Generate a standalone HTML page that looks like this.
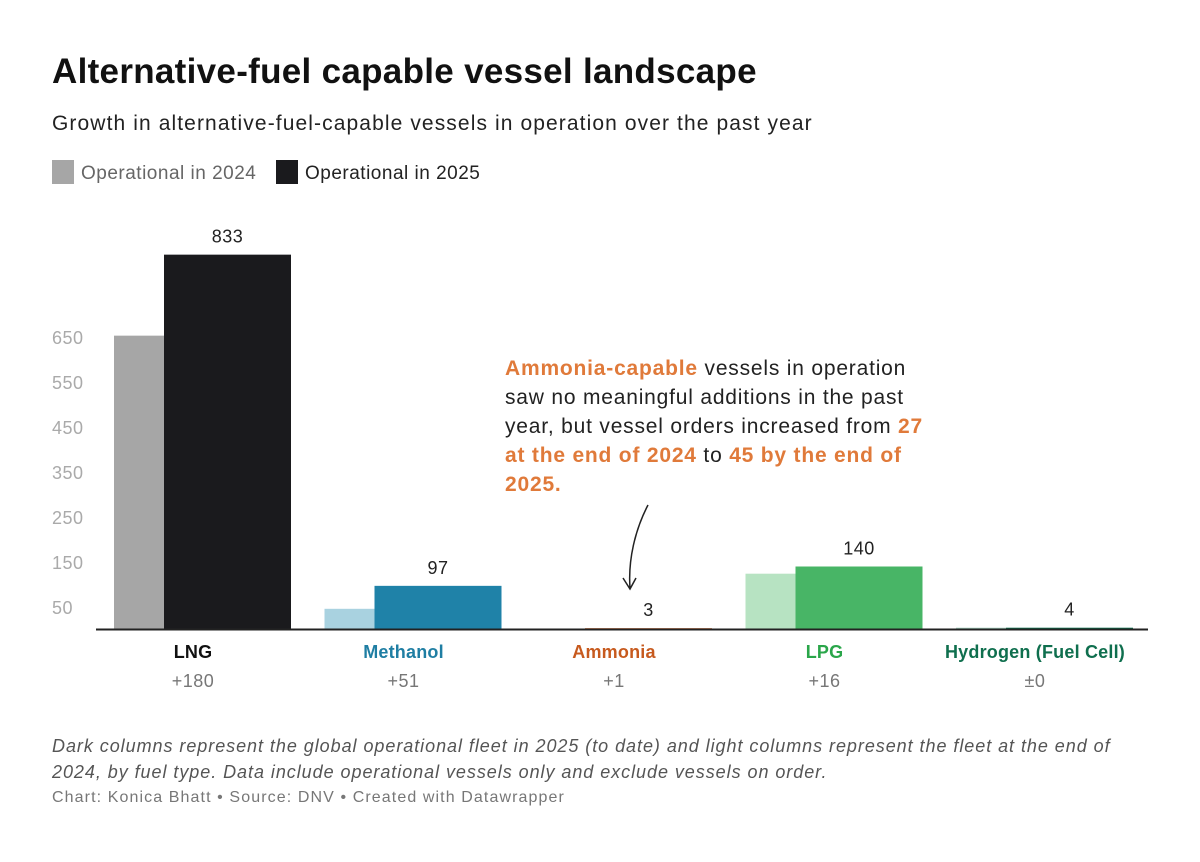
<!DOCTYPE html>
<html><head><meta charset="utf-8"><style>
body{margin:0;background:#fff;font-family:"Liberation Sans",sans-serif;}
#wrap{position:relative;width:1200px;height:862px;overflow:hidden;}
.t{position:absolute;white-space:nowrap;}
</style></head><body>
<div id="wrap">
<div class="t" style="left:52px;top:52px;font-size:35px;font-weight:bold;color:#111;letter-spacing:0.3px">Alternative-fuel capable vessel landscape</div>
<div class="t" style="left:52px;top:112px;font-size:21px;color:#222;letter-spacing:1.1px">Growth in alternative-fuel-capable vessels in operation over the past year</div>
<div class="t" style="left:52px;top:160px;font-size:19px;color:#666;letter-spacing:0.5px"><span style="display:inline-block;width:22px;height:24px;background:#a6a6a6;vertical-align:-5px;margin-right:7px"></span>Operational in 2024</div>
<div class="t" style="left:276px;top:160px;font-size:19px;color:#222;letter-spacing:0.5px"><span style="display:inline-block;width:22px;height:24px;background:#1a1a1d;vertical-align:-5px;margin-right:7px"></span>Operational in 2025</div>
<div class="t" style="left:505px;top:354px;font-size:21px;line-height:29px;color:#222;letter-spacing:0.8px"><b style="color:#e07a3a">Ammonia-capable</b> vessels in operation<br>saw no meaningful additions in the past<br>year, but vessel orders increased from <b style="color:#e07a3a">27</b><br><b style="color:#e07a3a">at the end of 2024</b> to <b style="color:#e07a3a">45 by the end of</b><br><b style="color:#e07a3a">2025.</b></div>
<div class="t" style="left:52px;top:733px;font-size:18px;line-height:26px;color:#555;font-style:italic;letter-spacing:0.95px">Dark columns represent the global operational fleet in 2025 (to date) and light columns represent the fleet at the end of<br>2024, by fuel type. Data include operational vessels only and exclude vessels on order.</div>
<div class="t" style="left:52px;top:789px;font-size:16px;color:#777;letter-spacing:1.1px">Chart: Konica Bhatt • Source: DNV • Created with Datawrapper</div>
<svg id="chart" width="1200" height="862" style="position:absolute;left:0;top:0"></svg>
</div>
<script>
const categories=["LNG","Methanol","Ammonia","LPG","Hydrogen (Fuel Cell)"];
const values2024=[653,46,2,124,4];
const values2025=[833,97,3,140,4];
const changes=["+180","+51","+1","+16","±0"];
const ticks=[50,150,250,350,450,550,650];
const lightColors=["#a6a6a6","#a9d2e0","#f3c9ad","#b7e3c2","#a9d6c4"];
const darkColors=["#1a1a1d","#1f82a8","#c9652a","#48b566","#0f6f4e"];
const labelColors=["#111","#1f7ea3","#c75a1e","#2aa64a","#0f6f4e"];
const NS="http://www.w3.org/2000/svg";
const svg=document.getElementById('chart');
const y0=629.5,k=0.45;
function y(v){return y0-v*k;}
function gx(i){return 114+i*210.5;}
function mk(t,a,txt){const e=document.createElementNS(NS,t);for(const p in a)e.setAttribute(p,a[p]);if(txt!==undefined)e.textContent=txt;svg.appendChild(e);return e;}
ticks.forEach(t=>{
  const e=mk('text',{x:52,y:y(t)+7,'font-size':18,fill:'#aaa','font-family':'Liberation Sans, sans-serif','letter-spacing':0.5},t);
  
  
});
categories.forEach((c,i)=>{
  const x=gx(i);
  const b1=mk('rect',{x:x,y:y(values2024[i]),width:50,height:values2024[i]*k,fill:lightColors[i]});
  
  
  const b2=mk('rect',{x:x+50,y:y(values2025[i]),width:127,height:values2025[i]*k,fill:darkColors[i]});
  
  
  const vl=mk('text',{x:x+113.5,y:y(values2025[i])-12,'font-size':18,fill:'#222','text-anchor':'middle','font-family':'Liberation Sans, sans-serif','letter-spacing':0.5},values2025[i]);
  
  
  const cl=mk('text',{x:x+79,y:658,'font-size':18,'font-weight':'bold',fill:labelColors[i],'text-anchor':'middle','font-family':'Liberation Sans, sans-serif','letter-spacing':0.2},c);
  
  
  const ch=mk('text',{x:x+79,y:687,'font-size':18,fill:'#777','text-anchor':'middle','font-family':'Liberation Sans, sans-serif','letter-spacing':0.5},changes[i]);
  
  
});
const ax=mk('line',{x1:96,x2:1148,y1:y0,y2:y0,stroke:'#222','stroke-width':2});


const ar=mk('path',{d:'M648,505 C635,530 628,560 630,588 M623,578 L630,589 L636,578',fill:'none',stroke:'#222','stroke-width':1.5});


</script>
</body></html>
